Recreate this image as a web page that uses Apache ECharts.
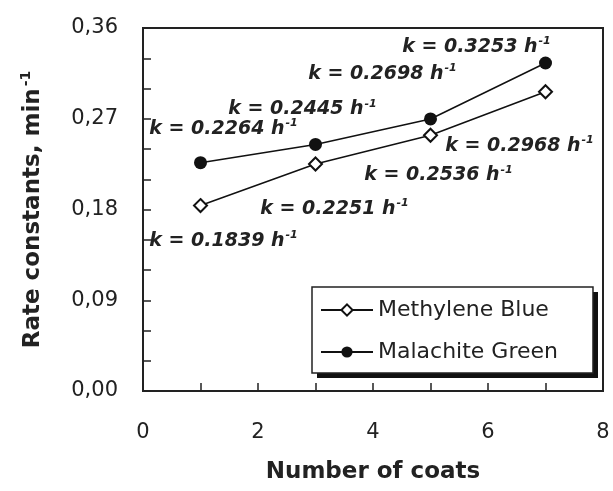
<!DOCTYPE html>
<html><head><meta charset="utf-8">
<script src="https://cdn.jsdelivr.net/npm/echarts@6/dist/echarts.min.js"></script>
<style>html,body{margin:0;padding:0;background:#fff}#c{width:613px;height:491px}</style>
</head><body><div id="c"></div>
<script>
const coats = [1, 3, 5, 7];
const methyleneBlue = [0.1839, 0.2251, 0.2536, 0.2968];
const malachiteGreen = [0.2264, 0.2445, 0.2698, 0.3253];
const yTicks = [0, 0.09, 0.18, 0.27, 0.36];
const xTicks = [0, 2, 4, 6, 8];
// label offsets (style only)
const mbOffsets = [[23, 35], [19, 45], [8, 40], [-26, 54]];
const mgOffsets = [[23, -34], [-13, -35], [-48, -45], [-69, -16]];

const FONT = 'DejaVu Sans';
const rich = {
  a: {fontFamily: FONT, fontSize: 19, fontWeight: 'bold', fontStyle: 'italic', color: '#222', lineHeight: 22},
  s: {fontFamily: FONT, fontSize: 11, fontWeight: 'bold', fontStyle: 'italic', color: '#222', verticalAlign: 'top', lineHeight: 22, padding: [0, 0, 10, 1]}
};
function build(vals, offs) {
  return coats.map((x, i) => ({value: [x, vals[i]], label: {offset: offs[i]}}));
}
const labelCfg = {
  show: true, position: 'inside', align: 'center', verticalAlign: 'middle',
  formatter: p => '{a|k = ' + p.value[1].toFixed(4) + ' h}{s|-1}', rich: rich
};
const chart = echarts.init(document.getElementById('c'));
chart.setOption({
  animation: false,
  backgroundColor: '#fff',
  grid: {left: 143, right: 10, top: 28, bottom: 100, show: true, borderColor: '#222', borderWidth: 2, backgroundColor: 'transparent'},
  xAxis: {
    type: 'value', min: xTicks[0], max: xTicks[xTicks.length - 1], interval: 2,
    axisLine: {show: true, lineStyle: {color: '#222', width: 2}},
    axisTick: {show: true, inside: true, length: 8, lineStyle: {color: '#222', width: 1.5}},
    minorTick: {show: true, splitNumber: 2, length: 8, lineStyle: {color: '#222', width: 1.5}},
    splitLine: {show: false},
    axisLabel: {margin: 31, fontFamily: FONT, fontSize: 21, color: '#222'},
    name: 'Number of coats', nameLocation: 'middle', nameGap: 70,
    nameTextStyle: {fontFamily: FONT, fontSize: 23, fontWeight: 'bold', color: '#222'}
  },
  yAxis: {
    type: 'value', min: yTicks[0], max: yTicks[yTicks.length - 1], interval: 0.09,
    axisLine: {show: true, lineStyle: {color: '#222', width: 2}},
    axisTick: {show: true, inside: true, length: 8, lineStyle: {color: '#222', width: 1.5}},
    minorTick: {show: true, splitNumber: 3, length: 8, lineStyle: {color: '#222', width: 1.5}},
    splitLine: {show: false},
    axisLabel: {margin: 25, fontFamily: FONT, fontSize: 21, color: '#222', formatter: v => v.toFixed(2).replace('.', ',')},
    name: '{a|Rate constants, min}{s|-1}', nameLocation: 'middle', nameGap: 96, nameRotate: 90,
    nameTextStyle: {rich: {
      a: {fontFamily: FONT, fontSize: 23, fontWeight: 'bold', color: '#222', lineHeight: 28},
      s: {fontFamily: FONT, fontSize: 14, fontWeight: 'bold', color: '#222', verticalAlign: 'top', lineHeight: 28, padding: [0, 0, 12, 2]}
    }}
  },
  legend: {
    left: 312, top: 287, orient: 'vertical', z: 10,
    padding: [12, 35, 10, 8], itemGap: 20, itemWidth: 52, itemHeight: 14,
    backgroundColor: '#fff', borderColor: '#222', borderWidth: 1.5,
    textStyle: {fontFamily: FONT, fontSize: 22, color: '#222'},
    data: ['Methylene Blue', 'Malachite Green']
  },
  graphic: [{
    type: 'rect', z: 5, silent: true,
    shape: {x: 317, y: 292, width: 281, height: 86},
    style: {fill: '#111'}
  }],
  series: [
    {
      name: 'Methylene Blue', type: 'line', data: build(methyleneBlue, mbOffsets),
      symbol: 'emptyDiamond', symbolSize: 13,
      itemStyle: {color: '#111', borderColor: '#111', borderWidth: 1.8},
      lineStyle: {color: '#111', width: 1.5},
      label: labelCfg
    },
    {
      name: 'Malachite Green', type: 'line', data: build(malachiteGreen, mgOffsets),
      symbol: 'circle', symbolSize: 13,
      itemStyle: {color: '#111'},
      lineStyle: {color: '#111', width: 1.5},
      label: labelCfg
    }
  ]
});
</script></body></html>
